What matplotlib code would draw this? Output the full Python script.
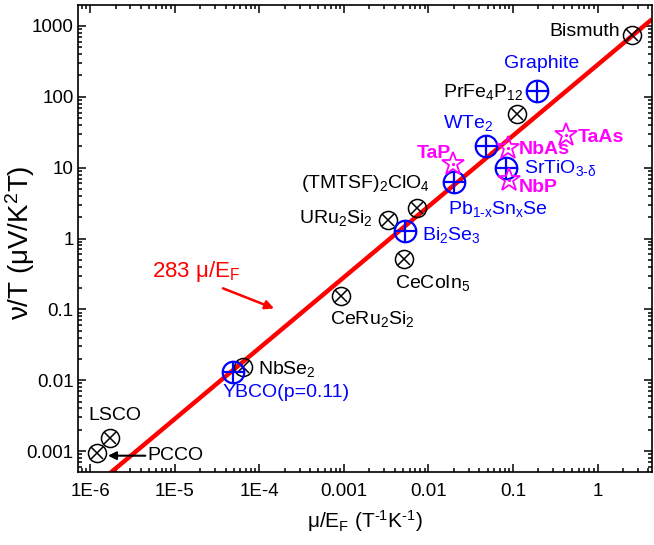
import matplotlib
matplotlib.use("Agg")
import matplotlib.pyplot as plt
import numpy as np

plt.rcParams['font.family'] = ['Liberation Sans', 'DejaVu Sans']
plt.rcParams['mathtext.fontset'] = 'custom'
plt.rcParams['mathtext.rm'] = 'Liberation Sans'
plt.rcParams['mathtext.it'] = 'Liberation Sans:italic'
plt.rcParams['mathtext.bf'] = 'Liberation Sans:bold'

# ---------------- data ----------------
black_names = ["Bismuth", "PrFe$_4$P$_{12}$", "(TMTSF)$_2$ClO$_4$", "URu$_2$Si$_2$",
               "CeCoIn$_5$", "CeRu$_2$Si$_2$", "NbSe$_2$", "LSCO", "PCCO"]
black_x = [2.55, 0.111, 0.0073, 0.0033, 0.0052, 0.00093, 6.4e-5, 1.72e-6, 1.21e-6]
black_y = [747, 57.7, 2.73, 1.85, 0.52, 0.152, 0.0152, 0.00152, 0.00094]

blue_names = ["Graphite", "WTe$_2$", "SrTiO$_{\\text{3-δ}}$", "Pb$_{\\text{1-x}}$Sn$_{\\text{x}}$Se",
              "Bi$_2$Se$_3$", "YBCO(p=0.11)"]
blue_x = [0.19, 0.048, 0.083, 0.020, 0.0053, 4.9e-5]
blue_y = [122, 20.4, 10.0, 6.35, 1.26, 0.013]

mag_names = ["TaAs", "NbAs", "TaP", "NbP"]
mag_x = [0.42, 0.087, 0.0195, 0.09]
mag_y = [29, 19, 11.4, 6.8]

fit_coef = 283

x_ticks = [1e-6, 1e-5, 1e-4, 1e-3, 1e-2, 1e-1, 1]
x_ticklabels = ["1E-6", "1E-5", "1E-4", "0.001", "0.01", "0.1", "1"]
y_ticks = [1e-3, 1e-2, 1e-1, 1, 10, 100, 1000]
y_ticklabels = ["0.001", "0.01", "0.1", "1", "10", "100", "1000"]

xlim = (7.2e-7, 4.4)
ylim = (5.06e-4, 1977)

# label offsets (pixels) and alignment -- layout only
black_lab = [(-12, -1, 'right'), (-74, 17, 'left'), (13, 20, 'right'), (-15, -3, 'right'),
             (-9, -29, 'left'), (-11, -28, 'left'), (15, -7, 'left'), (-22, 18, 'left'),
             (50, -7, 'left')]
blue_lab = [(-33, 23, 'left'), (-43, 18, 'left'), (18, -5, 'left'), (-6, -32, 'left'),
            (17, -9, 'left'), (-11, -25, 'left')]
mag_lab = [(12, -7, 'left'), (11, -6, 'left'), (-36, 6, 'left'), (10, -12, 'left')]

# ---------------- figure ----------------
W, H = 654, 545
fig = plt.figure(figsize=(W / 100, H / 100), dpi=100)
ax = fig.add_axes([78 / W, 1 - 472 / H, (652 - 78) / W, (472 - 5) / H])
ax.set_xscale('log')
ax.set_yscale('log')
ax.set_xlim(*xlim)
ax.set_ylim(*ylim)

# fit line
xl = np.array(xlim)
ax.plot(xl, fit_coef * xl, color='#ff0000', lw=3.2, zorder=2, solid_capstyle='butt')

# black circle-x markers
ax.plot(black_x, black_y, 'o', ms=13, mfc='none', mec='black', mew=1.1, zorder=3, ls='none')
ax.plot(black_x, black_y, 'x', ms=9.2, mec='black', mew=1.1, zorder=3, ls='none')

# blue circle-plus markers
ax.plot(blue_x, blue_y, 'o', ms=15.5, mfc='none', mec='#0000ff', mew=1.6, zorder=4, ls='none')
ax.plot(blue_x, blue_y, '+', ms=15.5, mec='#0000ff', mew=1.6, zorder=4, ls='none')

# magenta stars
ax.plot(mag_x, mag_y, '*', ms=17, mfc='none', mec='#ff00ff', mew=1.3, zorder=5, ls='none')
ax.plot(mag_x, mag_y, '.', ms=2.5, color='#ff00ff', zorder=5, ls='none')

fs = 14
for n, x, y, (dx, dy, ha) in zip(black_names, black_x, black_y, black_lab):
    ax.annotate(n, (x, y), xytext=(dx, dy), textcoords='offset pixels',
                ha=ha, va='baseline', fontsize=fs, color='black', zorder=6)
for n, x, y, (dx, dy, ha) in zip(blue_names, blue_x, blue_y, blue_lab):
    ax.annotate(n, (x, y), xytext=(dx, dy), textcoords='offset pixels',
                ha=ha, va='baseline', fontsize=fs, color='#0000ff', zorder=6)
for n, x, y, (dx, dy, ha) in zip(mag_names, mag_x, mag_y, mag_lab):
    ax.annotate(n, (x, y), xytext=(dx, dy), textcoords='offset pixels',
                ha=ha, va='baseline', fontsize=fs, color='#ff00ff', fontweight='bold', zorder=6)

# PCCO arrow
ax.annotate('', xy=(1.63e-6, 8.6e-4), xytext=(4.5e-6, 8.6e-4),
            arrowprops=dict(arrowstyle='-|>', color='black', lw=1.5, mutation_scale=12,
                            shrinkA=0, shrinkB=0))

# fit text + arrow
ax.text(5.4e-6, 0.29, "283 μ/E$_{\\mathrm{F}}$", color='#ff0000', fontsize=16, ha='left', va='baseline')
ax.annotate('', xy=(1.5e-4, 0.103), xytext=(3.73e-5, 0.198),
            arrowprops=dict(arrowstyle='-|>', color='#ff0000', lw=1.8, mutation_scale=13,
                            shrinkA=0, shrinkB=0))

# axes styling
ax.set_xticks(x_ticks)
ax.set_xticklabels(x_ticklabels)
ax.set_yticks(y_ticks)
ax.set_yticklabels(y_ticklabels)
ax.xaxis.set_minor_locator(matplotlib.ticker.LogLocator(base=10, subs=np.arange(2, 10), numticks=20))
ax.yaxis.set_minor_locator(matplotlib.ticker.LogLocator(base=10, subs=np.arange(2, 10), numticks=20))
ax.xaxis.set_minor_formatter(matplotlib.ticker.NullFormatter())
ax.yaxis.set_minor_formatter(matplotlib.ticker.NullFormatter())
ax.tick_params(which='both', direction='in', top=True, right=True, width=1.1)
ax.tick_params(which='major', length=6)
ax.tick_params(which='minor', length=3)
ax.tick_params(axis='x', which='major', pad=8, labelsize=13.5)
ax.tick_params(axis='y', which='major', pad=3, labelsize=13.5)
for s in ax.spines.values():
    s.set_linewidth(1.2)

ax.set_xlabel("μ/E$_{\\mathrm{F}}$ (T$^{\\text{-1}}$K$^{\\text{-1}}$)", fontsize=15, labelpad=6)
ax.set_ylabel("ν/T (μV/K$^{\\mathrm{2}}$T)", fontsize=20)
ax.yaxis.set_label_coords((37 - 78) / 574, (472 - 243) / 467)

fig.savefig("out.png", dpi=100)
